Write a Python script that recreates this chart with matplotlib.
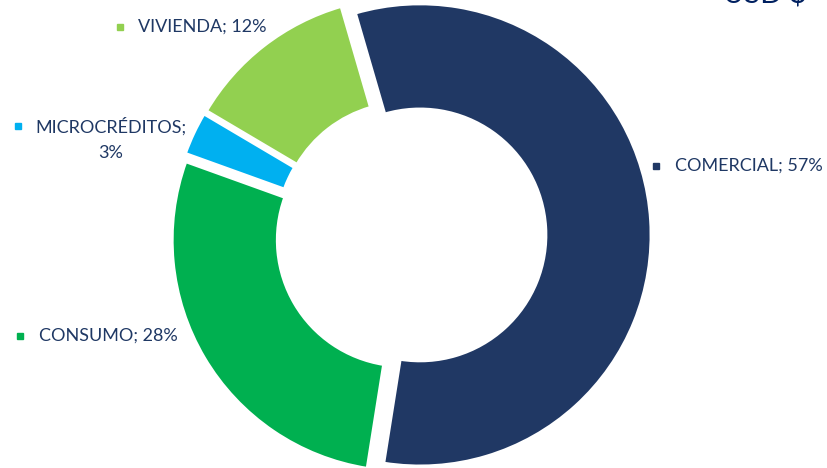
import matplotlib.pyplot as plt

# portfolio share by segment
segments = ["COMERCIAL", "CONSUMO", "MICROCRÉDITOS", "VIVIENDA"]
shares = [57, 28, 3, 12]
colors = ["#203864", "#00B050", "#00B0F0", "#92D050"]

text_color = "#1F3864"
plt.rcParams['font.family'] = ['Lato', 'DejaVu Sans']

fig = plt.figure(figsize=(8.28, 4.68), dpi=100)
ax = fig.add_axes([0, 0, 1, 1])

# pixel coordinates, y up
radius = 231
ring = 105
center = (411, 468 - 235.5)

# explode is in data units (pixels here)
ax.pie(shares, colors=colors, startangle=106.2, counterclock=False,
       radius=radius, center=center, explode=[9] * len(shares),
       wedgeprops=dict(width=ring, edgecolor="white", linewidth=2))

ax.set_xlim(0, 828)
ax.set_ylim(0, 468)
ax.set_aspect("equal")
ax.axis("off")

# labels: (square x, y, text x)
label_pos = [
    (656, 468 - 166, 675),
    (20, 468 - 336, 39),
    (18, 468 - 126, 35),
    (120, 468 - 27, 138),
]
for seg, val, col, (sx, sy, tx) in zip(segments, shares, colors, label_pos):
    ax.plot(sx, sy, "s", color=col, markersize=5)
    if seg == "MICROCRÉDITOS":
        # wrapped label, second line centred under the first
        ax.text(tx, sy, f"{seg};", ha="left", va="center",
                fontsize=13, color=text_color)
        ax.text(111, sy - 27, f"{val}%", ha="center", va="center",
                fontsize=13, color=text_color)
    else:
        ax.text(tx, sy, f"{seg}; {val}%", ha="left", va="center",
                fontsize=13, color=text_color)

# cropped title fragment at the top right
ax.text(807, 465.5, "USD $", ha="right", va="baseline", fontsize=21,
        color="#002060", clip_on=False)

fig.savefig("out.png", dpi=100)
